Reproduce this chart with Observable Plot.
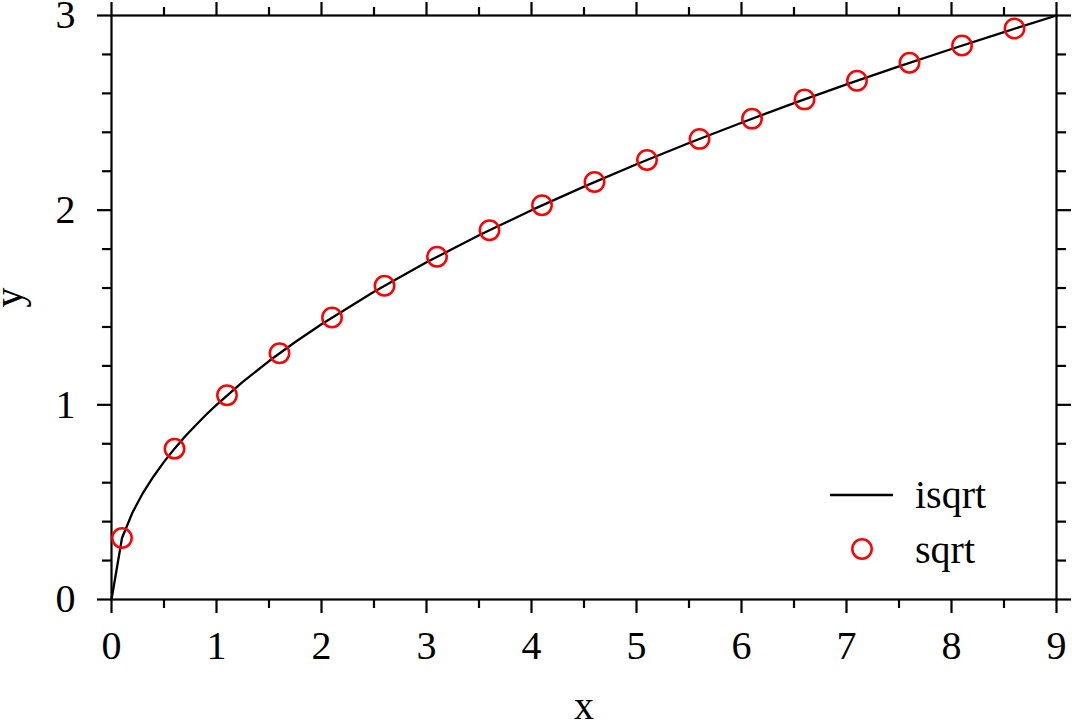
<!DOCTYPE html>
<html><head><meta charset="utf-8">
<script src="https://cdn.jsdelivr.net/npm/d3@7"></script>
<script src="https://cdn.jsdelivr.net/npm/@observablehq/plot@0.6"></script>
<style>
body{margin:0;background:#fff;}
#wrap{position:relative;width:1072px;height:723px;}
</style></head><body><div id="wrap"></div>
<script>
// isqrt curve samples
const lineX = [0,0.1,0.2,0.3,0.4,0.5,0.6,0.7,0.8,0.9,1.0,1.25,1.5,1.75,2,2.5,3,3.5,4,4.5,5,5.5,6,6.5,7,7.5,8,8.5,9];
const lineY = [0,0.316,0.447,0.548,0.632,0.707,0.775,0.837,0.894,0.949,1,1.118,1.225,1.323,1.414,1.581,1.732,1.871,2,2.121,2.236,2.345,2.449,2.550,2.646,2.739,2.828,2.915,3];
// sqrt points
const dotX = [0.1,0.6,1.1,1.6,2.1,2.6,3.1,3.6,4.1,4.6,5.1,5.6,6.1,6.6,7.1,7.6,8.1,8.6];
const dotY = [0.316,0.775,1.049,1.265,1.449,1.612,1.761,1.897,2.025,2.145,2.258,2.366,2.470,2.569,2.665,2.757,2.846,2.933];
// ticks
const xMajor = [0,1,2,3,4,5,6,7,8,9];
const xMinor = [0.5,1.5,2.5,3.5,4.5,5.5,6.5,7.5,8.5];
const yMajor = [0,1,2,3];
const yMinor = [0.2,0.4,0.6,0.8,1.2,1.4,1.6,1.8,2.2,2.4,2.6,2.8];
const seriesNames = ["isqrt","sqrt"];
const xLabel = "x", yLabel = "y";

const lineData = lineX.map((x,i)=>({x, y: lineY[i]}));
const dotData = dotX.map((x,i)=>({x, y: dotY[i]}));
const font = "'Liberation Serif', 'Times New Roman', serif";
const blank = () => "";
const MAJ = 14, MIN = 9, SW = 2.2;

const plot = Plot.plot({
  width: 1072, height: 723,
  marginLeft: 111, marginRight: 16, marginTop: 15, marginBottom: 124,
  x: {domain: [0, 9]},
  y: {domain: [0, 3]},
  style: {fontFamily: font, fontSize: "40px", background: "white", color: "black", overflow: "visible"},
  marks: [
    Plot.axisX(xMajor, {anchor: "bottom", tickSize: MAJ, strokeWidth: SW, tickPadding: 17, label: null, tickFormat: d => String(d)}),
    Plot.axisX(xMinor, {anchor: "bottom", tickSize: MIN, strokeWidth: SW, label: null, tickFormat: blank}),
    Plot.axisX(xMajor, {anchor: "top", tickSize: MAJ, strokeWidth: SW, label: null, tickFormat: blank}),
    Plot.axisX(xMinor, {anchor: "top", tickSize: MIN, strokeWidth: SW, label: null, tickFormat: blank}),
    Plot.axisY(yMajor, {anchor: "left", tickSize: MAJ, strokeWidth: SW, tickPadding: 22, label: null, tickFormat: d => String(d)}),
    Plot.axisY(yMinor, {anchor: "left", tickSize: MIN, strokeWidth: SW, label: null, tickFormat: blank}),
    Plot.axisY(yMajor, {anchor: "right", tickSize: MAJ, strokeWidth: SW, label: null, tickFormat: blank}),
    Plot.axisY(yMinor, {anchor: "right", tickSize: MIN, strokeWidth: SW, label: null, tickFormat: blank}),
    Plot.frame({stroke: "black", strokeWidth: SW}),
    Plot.text([xLabel], {text: d => d, frameAnchor: "bottom", dy: 119, lineAnchor: "bottom", fontSize: 40}),
    Plot.text([yLabel], {text: d => d, frameAnchor: "left", dx: -90, rotate: -90, lineAnchor: "bottom", fontSize: 40}),
    Plot.line(lineData, {x: "x", y: "y", stroke: "black", strokeWidth: 2.3}),
    Plot.dot(dotData, {x: "x", y: "y", r: 9.7, stroke: "red", strokeWidth: 2.5, fill: "none"})
  ]
});
document.getElementById("wrap").appendChild(plot);

// legend
const svg = d3.select(plot);
const lg = svg.append("g").attr("font-family", font).attr("font-size", 40).attr("text-anchor", "start");
lg.append("line").attr("x1", 830).attr("x2", 893).attr("y1", 495).attr("y2", 495)
  .attr("stroke", "black").attr("stroke-width", 2.3);
lg.append("circle").attr("cx", 862).attr("cy", 549).attr("r", 9.7)
  .attr("stroke", "red").attr("stroke-width", 2.5).attr("fill", "none");
lg.append("text").attr("x", 915).attr("y", 508).attr("text-anchor", "start").text(seriesNames[0]);
lg.append("text").attr("x", 915).attr("y", 563).attr("text-anchor", "start").text(seriesNames[1]);
</script></body></html>
